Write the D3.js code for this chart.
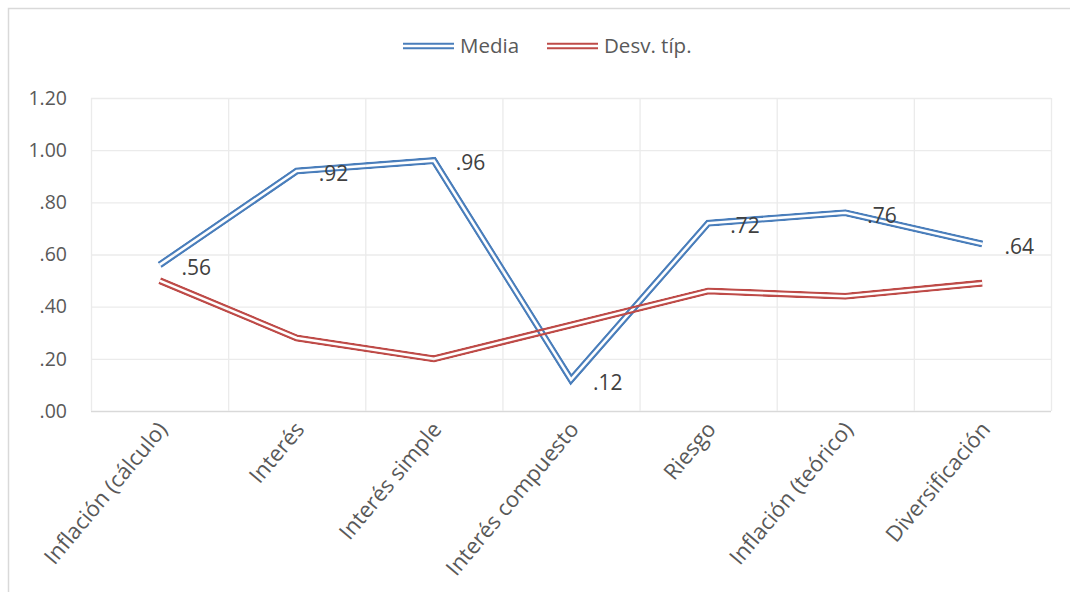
<!DOCTYPE html>
<html>
<head>
<meta charset="utf-8">
<script src="https://cdn.jsdelivr.net/npm/d3@7"></script>
<style>
  html, body { margin: 0; padding: 0; background: #fff; }
  svg { display: block; font-family: "Open Sans", "Noto Sans", sans-serif; }
</style>
</head>
<body>
<svg id="chart" width="1070" height="592"></svg>
<script>
// Conceptos evaluados
const categories = [
  "Inflación (cálculo)", "Interés", "Interés simple", "Interés compuesto",
  "Riesgo", "Inflación (teórico)", "Diversificación"
];
// Media de aciertos por concepto
const media = [0.56, 0.92, 0.96, 0.12, 0.72, 0.76, 0.64];
// Desviación típica por concepto
const desvTip = [0.50, 0.28, 0.20, 0.33, 0.46, 0.44, 0.49];
const yTicks = [0, 0.2, 0.4, 0.6, 0.8, 1.0, 1.2];
const seriesNames = ["Media", "Desv. típ."];
const seriesColors = ["#4A7EBB", "#BE4B48"];

const svg = d3.select("#chart");
const W = 1070, H = 592;
const plot = { left: 91, right: 1051, top: 98, bottom: 411 };

// outer chart frame (continues past the right and bottom edges)
svg.append("rect")
  .attr("x", 8.5).attr("y", 8.5)
  .attr("width", 1200).attr("height", 800)
  .attr("fill", "#fff").attr("stroke", "#D9D9D9").attr("stroke-width", 1.5);

const x = d3.scaleBand().domain(categories).range([plot.left, plot.right]).padding(0);
const y = d3.scaleLinear().domain([0, 1.2]).range([plot.bottom, plot.top]);
const cx = d => x(d) + x.bandwidth() / 2;

const fmt = v => d3.format(".2f")(v).replace(/^0\./, ".");

// horizontal gridlines
svg.append("g").selectAll("line").data(yTicks).join("line")
  .attr("x1", plot.left).attr("x2", plot.right)
  .attr("y1", d => y(d) + 0.5).attr("y2", d => y(d) + 0.5)
  .attr("stroke", d => d === 0 ? "#D9D9D9" : "#EBEBEB")
  .attr("stroke-width", d => d === 0 ? 1.5 : 1.3);

// vertical gridlines at category boundaries
const bounds = categories.map(c => x(c)).concat([plot.right]);
svg.append("g").selectAll("line").data(bounds).join("line")
  .attr("x1", d => d + 0.5).attr("x2", d => d + 0.5)
  .attr("y1", plot.top).attr("y2", plot.bottom)
  .attr("stroke", "#EBEBEB").attr("stroke-width", 1.3);

// y axis labels
const yAxis = d3.axisLeft(y).tickValues(yTicks).tickFormat(fmt).tickSize(0).tickPadding(24);
const gy = svg.append("g").attr("transform", `translate(${plot.left},0)`).call(yAxis);
gy.select(".domain").remove();
gy.selectAll("text")
  .attr("fill", "#595959").style("font-size", "19.5px")
  .style("font-family", "\"Open Sans\", sans-serif");

// x axis labels, rotated
const xAxis = d3.axisBottom(x).tickSize(0).tickPadding(0);
const gx = svg.append("g").attr("transform", `translate(0,${plot.bottom})`).call(xAxis);
gx.select(".domain").remove();
gx.selectAll("text")
  .attr("fill", "#595959").style("font-size", "22px")
  .style("font-family", "\"Open Sans\", sans-serif")
  .attr("text-anchor", "end")
  .attr("y", 0).attr("dy", "0.35em")
  .attr("transform", "translate(3,14) rotate(-50)");

// double-stroke lines: a thick stroke with a transparent centre cut by a mask
const defs = svg.append("defs");
const line = d3.line().x((d, i) => cx(categories[i])).y(d => y(d));
const allSeries = [media, desvTip];

allSeries.forEach((vals, si) => {
  const id = "dbl" + si;
  const m = defs.append("mask").attr("id", id)
    .attr("maskUnits", "userSpaceOnUse")
    .attr("x", 0).attr("y", 0).attr("width", W).attr("height", H);
  m.append("path").attr("d", line(vals)).attr("fill", "none")
    .attr("stroke", "#fff").attr("stroke-width", 7.2)
    .attr("stroke-linejoin", "miter").attr("stroke-miterlimit", 10);
  m.append("path").attr("d", line(vals)).attr("fill", "none")
    .attr("stroke", "#000").attr("stroke-width", 2.6)
    .attr("stroke-linejoin", "miter").attr("stroke-miterlimit", 10);
  svg.append("path").attr("d", line(vals)).attr("fill", "none")
    .attr("stroke", seriesColors[si]).attr("stroke-width", 7.2)
    .attr("stroke-linejoin", "miter").attr("stroke-miterlimit", 10)
    .attr("mask", `url(#${id})`);
});

// data labels for the mean
svg.append("g").selectAll("text").data(media).join("text")
  .attr("x", (d, i) => cx(categories[i]) + 22)
  .attr("y", d => y(d) + 2.5)
  .attr("dy", "0.35em")
  .attr("fill", "#404040").style("font-size", "21px")
  .text(d => fmt(d));

// legend
const legendItems = [
  { name: seriesNames[0], color: seriesColors[0], x0: 403 },
  { name: seriesNames[1], color: seriesColors[1], x0: 547 }
];
legendItems.forEach((it, i) => {
  const ly = 46;
  const id = "leg" + i;
  const m = defs.append("mask").attr("id", id).attr("maskUnits", "userSpaceOnUse")
    .attr("x", 0).attr("y", 0).attr("width", W).attr("height", H);
  m.append("line").attr("x1", it.x0).attr("x2", it.x0 + 51).attr("y1", ly).attr("y2", ly)
    .attr("stroke", "#fff").attr("stroke-width", 7.2);
  m.append("line").attr("x1", it.x0).attr("x2", it.x0 + 51).attr("y1", ly).attr("y2", ly)
    .attr("stroke", "#000").attr("stroke-width", 2.6);
  svg.append("line").attr("x1", it.x0).attr("x2", it.x0 + 51).attr("y1", ly).attr("y2", ly)
    .attr("stroke", it.color).attr("stroke-width", 7.2).attr("mask", `url(#${id})`);
  svg.append("text").attr("x", it.x0 + 57).attr("y", ly).attr("dy", "0.35em")
    .attr("fill", "#595959").style("font-size", "20.5px").text(it.name);
});
</script>
</body>
</html>
